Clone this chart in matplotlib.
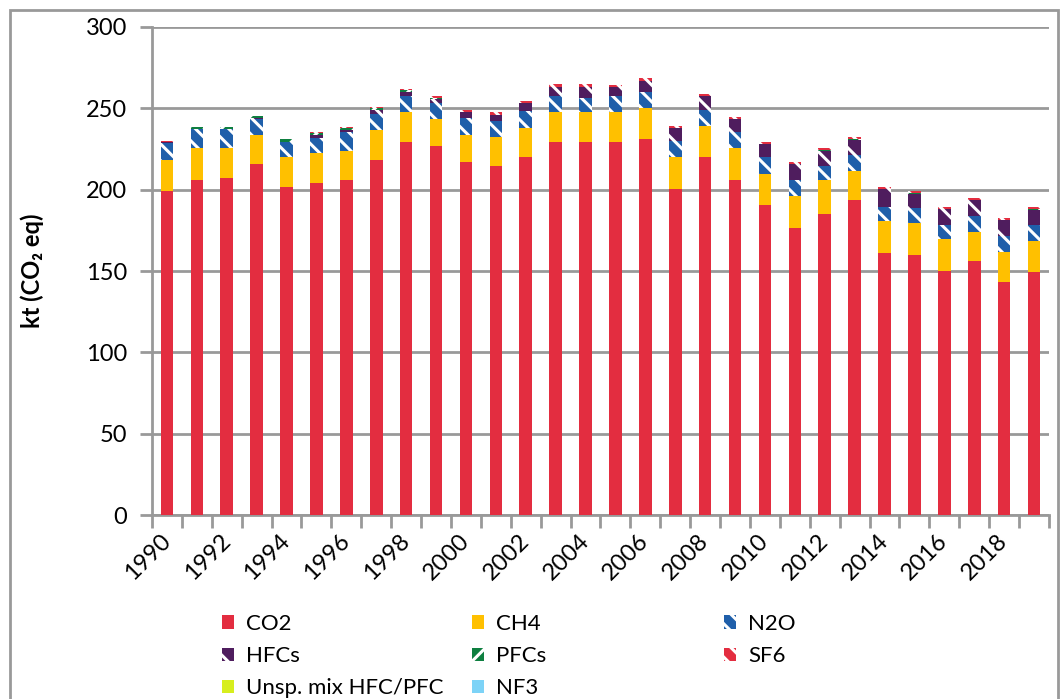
import numpy as np
import matplotlib.pyplot as plt
from matplotlib.patches import Rectangle, Patch

years = list(range(1990, 2020))

co2 = [199, 206, 207.4, 215.6, 201.7, 204.3, 206, 218.5, 229.6, 226.7,
       216.9, 214.4, 220, 229.6, 229.6, 229.6, 231, 200.4, 219.8, 205.8,
       190.7, 176.7, 185, 193.4, 161.3, 160.1, 150.2, 156, 143.4, 149.2]
ch4 = [19.5, 19.5, 18.1, 17.9, 18.3, 18.3, 18, 18.1, 17.9, 16.5,
       16.6, 17.9, 17.8, 18.1, 18.1, 18.1, 19.4, 19.6, 19.5, 19.7,
       19.2, 19.6, 20.8, 18.1, 19.6, 19.5, 19.6, 18, 18.1, 19.3]
n2o = [9.9, 11.5, 11.5, 9.9, 9.4, 9.3, 11.6, 9.9, 10.1, 9.9,
       10.3, 9.7, 10.8, 9.9, 8.5, 9.7, 9.9, 9.8, 9.9, 9.7,
       9.9, 9.7, 9.0, 9.7, 8.2, 8.9, 8.6, 9.8, 10.1, 9.5]
hfcs = [1.0, 0.5, 0.3, 0.4, 0.2, 1.6, 1.2, 2.3, 2.3, 2.7,
        3.7, 3.9, 4.7, 5.4, 6.8, 5.6, 6.5, 7.9, 8.2, 8.2,
        8.2, 9.8, 9.1, 9.5, 11.3, 9.0, 9.7, 9.8, 9.5, 9.8]
pfcs = [0.2, 1.0, 1.0, 1.4, 1.5, 1.6, 1.2, 1.5, 1.4, 0.3,
        0.2, 0.2, 0.2, 0.2, 0.2, 0.2, 0.2, 0.2, 0.2, 0.2,
        0.2, 0.2, 0.2, 0.2, 0.2, 0.2, 0.2, 0.2, 0.2, 0.2]
sf6 = [0.3, 0.3, 0.3, 0.3, 0.3, 0.3, 0.3, 0.3, 0.3, 1.6,
       1.5, 1.6, 1.3, 1.5, 1.5, 1.3, 1.5, 1.4, 1.3, 1.3,
       1.4, 1.3, 1.4, 1.4, 1.1, 1.3, 1.2, 1.2, 1.2, 1.3]
unsp = [0] * 30
nf3 = [0] * 30

# name, values, colour, hatch
series = [
    ('CO2', co2, '#E32D40', None),
    ('CH4', ch4, '#FFC000', None),
    ('N2O', n2o, '#1F5FAA', '\\\\'),
    ('HFCs', hfcs, '#4F1D5E', '\\'),
    ('PFCs', pfcs, '#0E7F40', '//'),
    ('SF6', sf6, '#E32D40', '\\\\'),
    ('Unsp. mix HFC/PFC', unsp, '#D7EE1E', None),
    ('NF3', nf3, '#7DD3F7', None),
]

plt.rcParams['font.family'] = ['Lato', 'DejaVu Sans']
plt.rcParams['hatch.linewidth'] = 2.2

fig = plt.figure(figsize=(10.6, 6.99), dpi=100)
ax = fig.add_axes([0.1434, 0.2632, 0.8462, 0.6982])

x = np.arange(len(years))
bottom = np.zeros(len(years))
handles = {}
for name, vals, col, hatch in series:
    vals = np.array(vals, dtype=float)
    if hatch:
        ax.bar(x, vals, 0.42, bottom=bottom, color=col, edgecolor='white',
               hatch=hatch, linewidth=0, zorder=3)
        handles[name] = Patch(facecolor=col, edgecolor='white', hatch=hatch, linewidth=0)
    else:
        ax.bar(x, vals, 0.42, bottom=bottom, color=col, linewidth=0, zorder=3)
        handles[name] = Patch(facecolor=col, linewidth=0)
    bottom += vals

ax.set_xlim(-0.5, len(years) - 0.5)
ax.set_ylim(0, 300)
ax.set_yticks(np.arange(0, 301, 50))
ax.tick_params(axis='y', labelsize=17, length=9, width=2, color='#999999', pad=9)
ax.yaxis.grid(True, color='#999999', linewidth=2, zorder=0)

ax.set_xticks(x[::2])
ax.set_xticklabels([str(y) for y in years[::2]], rotation=45, ha='right',
                   va='center', rotation_mode='anchor', fontsize=17)
ax.tick_params(axis='x', which='major', length=0, pad=16)
ax.set_xticks(np.arange(-0.5, len(years)), minor=True)
ax.tick_params(axis='x', which='minor', length=9, width=2, color='#999999')

for s in ['top', 'right']:
    ax.spines[s].set_visible(False)
for s in ['left', 'bottom']:
    ax.spines[s].set_color('#999999')
    ax.spines[s].set_linewidth(2)

ax.set_ylabel('kt (CO\u2082 eq)', fontsize=17, fontweight='bold', labelpad=30)

# three legend columns placed like the original (equal column widths)
columns = [(['CO2', 'HFCs', 'Unsp. mix HFC/PFC'], 222),
           (['CH4', 'PFCs', 'NF3'], 472),
           (['N2O', 'SF6'], 724)]
for names, xpix in columns:
    leg = fig.legend([handles[n] for n in names], names, ncol=1, frameon=False,
                     loc='upper left', bbox_to_anchor=(xpix / 1060, 1 - 614 / 699),
                     fontsize=16, handlelength=0.55, handleheight=0.55,
                     handletextpad=0.55, labelspacing=0.55, borderaxespad=0,
                     borderpad=0)

fig.patches.append(Rectangle((10 / 1060, -0.05), 1048 / 1060, 1.05 - 10 / 699,
                             transform=fig.transFigure, fill=False,
                             edgecolor='#999999', linewidth=2))

fig.savefig('out.png', dpi=100)
